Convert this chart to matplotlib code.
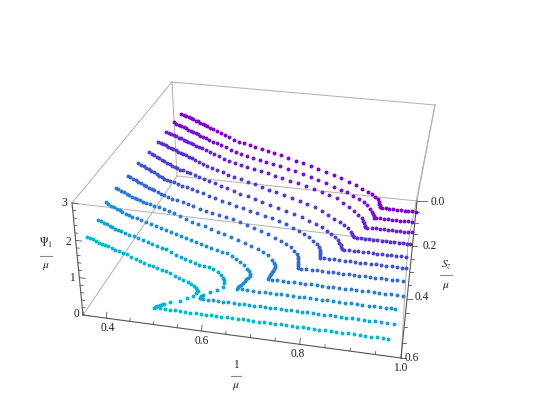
import numpy as np
import matplotlib
matplotlib.use('Agg')
import matplotlib.pyplot as plt

plt.rcParams['font.family'] = ['Liberation Serif', 'DejaVu Serif']
plt.rcParams['mathtext.fontset'] = 'stix'

# one fixed S_z/mu for every curve, back to front
s_values = [0.05, 0.097, 0.143, 0.191, 0.245, 0.288, 0.338, 0.392, 0.441, 0.492, 0.544]

x_a = [.389,.395,.401,.407,.413,.419,.425,.431,.437,.443,.449,.455,.462,.47,.479,.489,.5,.512,.524,.537,.55,.564,.579,.595,.611,.628,.646,.664,.683,.702,.722,.742,.762,.782,.802,.822,.84,.857,.872,.884,.893,.9,.904,.906,.907,.908]
psi_a = [2.31,2.28,2.25,2.22,2.19,2.16,2.13,2.11,2.08,2.05,2.02,1.99,1.955,1.91,1.87,1.82,1.77,1.71,1.65,1.6,1.56,1.52,1.48,1.44,1.4,1.35,1.3,1.25,1.18,1.12,1.05,.99,.93,.87,.8,.7,.61,.53,.45,.39,.32,.25,.18,.12,.08,.03]
flat_a = [.913,.923,.933,.943,.953,.963,.972,.981,.99,1.0]

x_b = [.386,.392,.398,.404,.41,.416,.422,.428,.434,.44,.446,.452,.459,.466,.474,.483,.493,.504,.516,.528,.541,.555,.57,.586,.602,.619,.636,.654,.673,.692,.711,.731,.751,.771,.79,.808,.825,.841,.855,.868,.878,.886,.892,.895,.897,.899]
psi_b = [2.29,2.26,2.23,2.2,2.17,2.14,2.11,2.08,2.05,2.02,1.99,1.96,1.925,1.89,1.85,1.81,1.77,1.72,1.67,1.61,1.56,1.52,1.48,1.44,1.39,1.35,1.3,1.26,1.21,1.16,1.1,1.03,.95,.88,.81,.74,.68,.6,.51,.44,.35,.26,.17,.11,.05,0]
flat_b = [.904,.914,.924,.934,.944,.954,.964,.974,.984,.992]

x_c = [.383,.389,.395,.401,.407,.413,.419,.425,.431,.437,.443,.449,.456,.463,.471,.48,.49,.501,.513,.525,.538,.552,.567,.583,.599,.616,.633,.651,.67,.689,.708,.728,.748,.768,.787,.805,.822,.837,.85,.861,.87,.875,.878,.88,.881]
psi_c = [2.26,2.23,2.21,2.18,2.15,2.12,2.1,2.07,2.05,2.02,1.99,1.97,1.93,1.9,1.87,1.82,1.78,1.72,1.67,1.61,1.56,1.52,1.48,1.43,1.39,1.34,1.3,1.25,1.2,1.15,1.1,1.05,.99,.91,.84,.77,.65,.55,.45,.35,.26,.18,.11,.05,0]
flat_c = [.887,.897,.907,.917,.927,.937,.947,.957,.967,.977,.987,.995]

x_d = [.38,.386,.392,.398,.404,.41,.416,.422,.428,.434,.44,.446,.453,.46,.468,.477,.487,.498,.51,.522,.535,.549,.564,.58,.596,.613,.63,.648,.666,.685,.704,.723,.742,.761,.778,.794,.809,.822,.833,.843,.851,.855,.858,.86]
psi_d = [2.24,2.21,2.18,2.15,2.12,2.09,2.06,2.03,2,1.97,1.94,1.91,1.875,1.84,1.8,1.76,1.71,1.66,1.61,1.55,1.51,1.46,1.41,1.36,1.31,1.25,1.2,1.14,1.08,1.02,.96,.9,.84,.78,.69,.59,.49,.4,.32,.25,.16,.1,.04,0]
flat_d = [.866,.876,.886,.896,.906,.916,.926,.937,.947,.957,.967,.977,.987,.995]

x_e = [.377,.383,.389,.395,.401,.407,.413,.419,.425,.431,.437,.443,.45,.457,.465,.474,.484,.495,.507,.519,.532,.546,.561,.577,.593,.61,.627,.645,.663,.682,.701,.72,.739,.757,.773,.787,.799,.81,.819,.826,.831,.834,.836,.838]
psi_e = [2.24,2.2,2.17,2.13,2.09,2.05,2.02,1.98,1.94,1.9,1.87,1.85,1.82,1.8,1.77,1.74,1.7,1.66,1.61,1.57,1.52,1.47,1.41,1.36,1.3,1.25,1.19,1.13,1.07,1,.93,.86,.8,.73,.66,.57,.49,.41,.33,.26,.19,.13,.06,0]
flat_e = [.844,.855,.866,.877,.888,.899,.91,.921,.932,.943,.954,.965,.976,.987]

x_f = [.367,.373,.379,.385,.391,.397,.403,.409,.415,.421,.427,.434,.441,.449,.458,.468,.479,.491,.503,.516,.53,.545,.561,.577,.593,.61,.627,.644,.661,.678,.695,.711,.727,.741,.754,.765,.775,.783,.788,.791,.792,.793,.793,.793]
psi_f = [2.16,2.12,2.09,2.05,2.01,1.97,1.94,1.9,1.86,1.82,1.79,1.76,1.74,1.71,1.68,1.64,1.61,1.57,1.53,1.48,1.43,1.38,1.33,1.28,1.22,1.17,1.13,1.09,1.03,.98,.92,.85,.78,.7,.63,.55,.47,.39,.31,.23,.17,.12,.06,0]
flat_f = [.802,.814,.826,.838,.85,.862,.874,.886,.898,.91,.922,.934,.946,.958,.97,.982,.99]

x_g = [.361,.367,.373,.379,.385,.391,.397,.403,.409,.415,.421,.428,.435,.443,.452,.462,.473,.485,.497,.51,.524,.538,.553,.568,.584,.6,.616,.632,.648,.664,.68,.695,.709,.721,.732,.74,.746,.749,.75,.75,.75,.751,.751]
psi_g = [2.1,2.06,2.03,1.99,1.95,1.92,1.88,1.85,1.82,1.79,1.76,1.72,1.68,1.65,1.61,1.58,1.54,1.5,1.46,1.42,1.38,1.34,1.3,1.26,1.22,1.18,1.13,1.07,1,.93,.86,.79,.73,.65,.57,.48,.39,.32,.25,.19,.13,.07,0]
flat_g = [.758,.77,.782,.794,.806,.818,.83,.842,.854,.866,.878,.89,.902,.914,.926,.938,.95,.962,.974,.987]

x_h = [.354,.36,.366,.372,.378,.384,.39,.396,.402,.408,.415,.422,.43,.439,.449,.46,.472,.484,.497,.51,.523,.537,.551,.565,.58,.595,.61,.625,.64,.655,.669,.682,.693,.702,.707,.709,.708,.706,.704,.702,.7,.698,.696,.694]
psi_h = [2.09,2.05,2.02,1.98,1.95,1.91,1.88,1.86,1.83,1.8,1.77,1.74,1.72,1.7,1.67,1.64,1.6,1.55,1.49,1.43,1.37,1.32,1.27,1.22,1.17,1.11,1.05,1,.95,.88,.82,.74,.67,.56,.48,.42,.36,.3,.25,.21,.16,.12,.07,0]
flat_h = [.702,.714,.727,.739,.752,.764,.777,.789,.802,.814,.827,.839,.852,.864,.877,.889,.902,.914,.927,.939,.952,.964,.977,.99]

x_i = [.35,.356,.362,.368,.374,.38,.386,.393,.4,.408,.417,.427,.437,.448,.459,.47,.481,.492,.503,.514,.525,.536,.547,.558,.569,.58,.591,.602,.613,.624,.634,.643,.651,.658,.662,.664,.663,.66,.656,.652,.648,.644,.64,.637,.634]
psi_i = [1.98,1.94,1.91,1.87,1.84,1.8,1.76,1.73,1.7,1.67,1.63,1.59,1.56,1.52,1.48,1.44,1.4,1.36,1.32,1.28,1.24,1.2,1.17,1.13,1.1,1.05,1.02,.98,.95,.89,.83,.76,.69,.6,.53,.46,.4,.35,.3,.25,.18,.12,.08,.04,0]
flat_i = [.646,.658,.671,.683,.696,.708,.721,.733,.746,.758,.771,.783,.796,.808,.821,.833,.846,.858,.871,.883,.896,.908,.921,.933,.946,.958,.968,.977]

x_j = [.353,.359,.365,.371,.377,.383,.389,.395,.402,.41,.419,.428,.438,.448,.458,.468,.478,.488,.498,.508,.518,.528,.538,.548,.558,.568,.578,.588,.598,.607,.614,.618,.62,.62,.618,.604,.589,.573,.57,.568,.566]
psi_j = [1.83,1.8,1.77,1.74,1.71,1.68,1.65,1.63,1.6,1.57,1.53,1.5,1.46,1.43,1.39,1.35,1.31,1.27,1.24,1.19,1.13,1.08,1.04,1,.96,.93,.91,.89,.85,.79,.73,.66,.59,.52,.41,.29,.21,.1,.07,.03,0]
flat_j = [.573,.584,.595,.606,.617,.628,.64,.651,.662,.673,.685,.696,.707,.718,.73,.741,.752,.764,.775,.787,.798,.81,.821,.833,.845,.857,.868,.88,.892,.904,.916,.928,.94,.952,.964,.978]

x_k = [.35,.356,.362,.368,.374,.38,.386,.393,.4,.408,.416,.424,.432,.441,.45,.459,.468,.477,.486,.495,.504,.513,.522,.531,.54,.549,.558,.565,.571,.575,.578,.578,.575,.568,.555,.54,.519,.505,.502,.499,.496,.493,.49,.487,.485,.483]
psi_k = [1.72,1.69,1.66,1.62,1.59,1.56,1.54,1.52,1.5,1.46,1.43,1.4,1.37,1.32,1.28,1.23,1.19,1.16,1.13,1.1,1.07,1.04,1,.95,.91,.86,.82,.78,.73,.69,.65,.61,.56,.46,.38,.29,.21,.15,.13,.11,.09,.07,.05,.03,.015,0]
flat_k = [.495,.506,.517,.528,.539,.55,.561,.572,.583,.594,.605,.616,.627,.638,.65,.661,.672,.683,.694,.706,.717,.728,.74,.751,.762,.774,.785,.797,.808,.82,.831,.843,.855,.866,.878,.89,.901,.913,.925,.937,.949,.96,.97]

curve_x = [x_a, x_b, x_c, x_d, x_e, x_f, x_g, x_h, x_i, x_j, x_k]
curve_psi = [psi_a, psi_b, psi_c, psi_d, psi_e, psi_f, psi_g, psi_h, psi_i, psi_j, psi_k]
curve_flat = [flat_a, flat_b, flat_c, flat_d, flat_e, flat_f, flat_g, flat_h, flat_i, flat_j, flat_k]
colors = ['#7f00cf', '#7410cf', '#6620cf', '#5a30cf', '#4c42cf', '#3f55cf', '#3668cf', '#2a7ccf', '#1b90cf', '#0fa5cf', '#00b8cf']

x_ticks = [0.4, 0.6, 0.8, 1.0]
x_minor = [0.35, 0.45, 0.5, 0.55, 0.65, 0.7, 0.75, 0.85, 0.9, 0.95]
s_ticks = [0.0, 0.2, 0.4, 0.6]
s_minor = [0.05, 0.1, 0.15, 0.25, 0.3, 0.35, 0.45, 0.5, 0.55]
psi_ticks = [0, 1, 2, 3]
psi_minor = [.2, .4, .6, .8, 1.2, 1.4, 1.6, 1.8, 2.2, 2.4, 2.6, 2.8]

# where the box corners land on the page: (x index, s index, psi index)
corner = {
    (0, 0, 0): (177, 176), (1, 0, 0): (417, 201), (0, 1, 0): (83, 315), (1, 1, 0): (401, 358),
    (0, 0, 1): (172, 82), (1, 0, 1): (435, 105), (0, 1, 1): (72, 203), (1, 1, 1): (408, 243),
}


def project(x, s, p):
    x, s, p = np.asarray(x, float), np.asarray(s, float), np.asarray(p, float)
    t = (x - 0.35) / 0.65
    t = t * (1 - 0.05 * (1 - t))
    w = s / 0.6
    w = w * (1 - 0.2 * (1 - w))
    h = p / 3.0
    u, v = 0.0, 0.0
    for (i, j, k), (cu, cv) in corner.items():
        f = (t if i else 1 - t) * (w if j else 1 - w) * (h if k else 1 - h)
        u = u + f * cu
        v = v + f * cv
    return u, v


fig = plt.figure(figsize=(5.45, 4.05), dpi=100)
ax = fig.add_axes([0, 0, 1, 1])
ax.set_xlim(0, 545)
ax.set_ylim(405, 0)
ax.axis('off')

# box
light = [((0, 0, 0), (1, 0, 0)), ((0, 0, 0), (0, 1, 0)), ((0, 0, 0), (0, 0, 1)),
         ((1, 0, 0), (1, 0, 1)), ((1, 1, 0), (1, 1, 1)),
         ((0, 0, 1), (1, 0, 1)), ((0, 0, 1), (0, 1, 1)), ((1, 0, 1), (1, 1, 1)), ((0, 1, 1), (1, 1, 1))]
dark = [((0, 1, 0), (1, 1, 0)), ((1, 0, 0), (1, 1, 0)), ((0, 1, 0), (0, 1, 1))]
for a, b in light:
    ax.plot([corner[a][0], corner[b][0]], [corner[a][1], corner[b][1]], color='#b0b0b0', lw=0.7, zorder=1)
for a, b in dark:
    ax.plot([corner[a][0], corner[b][0]], [corner[a][1], corner[b][1]], color='#555555', lw=0.8, zorder=1)

# ticks
for val, ln in [(v, 6) for v in x_ticks] + [(v, 3) for v in x_minor]:
    u, v = project(val, 0.6, 0)
    ax.plot([u, u + 0.6 * ln / 6], [v, v - ln], color='#555555', lw=0.6, zorder=1)
for val, ln in [(v, 5) for v in s_ticks[1:]] + [(0.0, 10)] + [(v, 3) for v in s_minor]:
    u, v = project(1.0, val, 0)
    ax.plot([u, u + ln], [v, v], color='#555555', lw=0.6, zorder=1)
for val, ln in [(v, 6) for v in psi_ticks] + [(v, 3) for v in psi_minor]:
    u, v = project(0.35, 0.6, val)
    ax.plot([u, u + ln], [v, v + 0.13 * ln], color='#555555', lw=0.6, zorder=1)

# the curves
for s, xs, ps, fl, col in zip(s_values, curve_x, curve_psi, curve_flat, colors):
    all_x = list(xs) + list(fl)
    all_p = list(ps) + [0] * len(fl)
    u, v = project(all_x, [s] * len(all_x), all_p)
    ax.scatter(u, v, s=8, color=col, linewidths=0, zorder=3)

# tick labels
fs = 8.3
for lab, u, v in zip(['0.4', '0.6', '0.8', '1.0'], [107.7, 201.7, 298.3, 400], [328, 340.7, 354, 367.7]):
    ax.text(u, v, lab, fontsize=fs, ha='center', va='center', color='#222222')
for lab, u, v in zip(['0.0', '0.2', '0.4', '0.6'], [438, 430, 421.7, 411.7], [202, 245.7, 297.3, 358.3]):
    ax.text(u, v, lab, fontsize=fs, ha='center', va='center', color='#222222')
for lab, u, v in zip(['0', '1', '2', '3'], [76, 72.3, 68.3, 64.3], [314, 278.3, 241.7, 202.7]):
    ax.text(u, v, lab, fontsize=fs, ha='center', va='center', color='#222222')

# axis labels, written as fractions
for top, u, vt, vl, vb, half in [('1', 235.5, 365, 376, 386.5, 5),
                                 (r'$S_z$', 446, 265, 274.5, 285.5, 6),
                                 (r'$\Psi_1$', 46, 243, 255.5, 265.5, 6)]:
    ax.text(u, vt, top, fontsize=fs, ha='center', va='center', color='#222222')
    ax.plot([u - half, u + half], [vl, vl], color='#888888', lw=0.8)
    ax.text(u, vb, r'$\mu$', fontsize=fs, ha='center', va='center', color='#222222')

fig.savefig('out.png', dpi=100)
